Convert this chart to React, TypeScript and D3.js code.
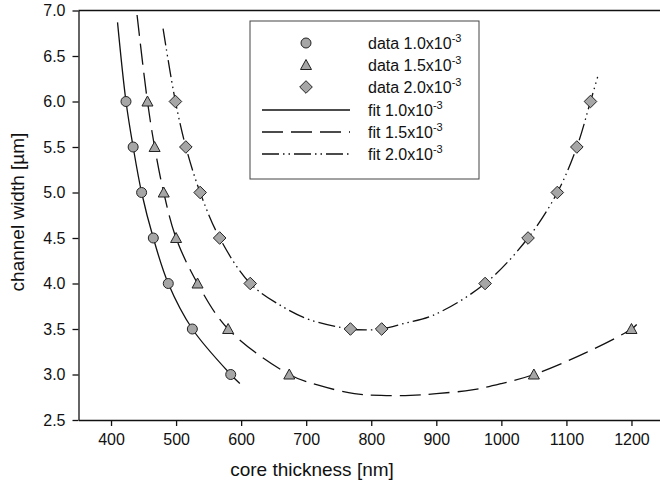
import React, { useRef, useEffect } from "react";
import * as d3 from "d3";

const width = 660;
const height = 488;
const margin = { left: 78.5, right: -4, top: 10.5, bottom: 68 }; // right side is cut off in the original
const font = "'Liberation Sans', Arial, sans-serif";
const markerFill = "#a6a6a6";

const xTicks = [400, 500, 600, 700, 800, 900, 1000, 1100, 1200];
const yTicks = [2.5, 3.0, 3.5, 4.0, 4.5, 5.0, 5.5, 6.0, 6.5, 7.0];

// measured points (core thickness nm, channel width um)
const data10X = [423, 434, 447, 465, 488, 525, 584];
const data10Y = [6.0, 5.5, 5.0, 4.5, 4.0, 3.5, 3.0];
const data15X = [456, 467, 481, 500, 533, 580, 674, 1050, 1200];
const data15Y = [6.0, 5.5, 5.0, 4.5, 4.0, 3.5, 3.0, 3.0, 3.5];
const data20X = [499, 515, 537, 567, 614, 768, 816, 975, 1041, 1086, 1116, 1137];
const data20Y = [6.0, 5.5, 5.0, 4.5, 4.0, 3.5, 3.5, 4.0, 4.5, 5.0, 5.5, 6.0];

// fit curves
const fit10X = [410, 423, 434, 447, 465, 488, 525, 584, 598];
const fit10Y = [6.87, 6.0, 5.5, 5.0, 4.5, 4.0, 3.5, 3.0, 2.9];
const fit15X = [440, 456, 467, 481, 500, 533, 580, 674, 720, 774, 815, 860, 900, 955, 1000, 1050, 1130, 1200, 1208];
const fit15Y = [6.95, 6.0, 5.5, 5.0, 4.5, 4.0, 3.5, 3.0, 2.88, 2.79, 2.77, 2.77, 2.79, 2.83, 2.9, 3.0, 3.24, 3.5, 3.55];
const fit20X = [480, 499, 515, 537, 567, 614, 665, 706, 767, 795, 816, 850, 895, 975, 1041, 1086, 1116, 1137, 1148];
const fit20Y = [6.8, 6.0, 5.5, 5.0, 4.5, 4.0, 3.74, 3.6, 3.5, 3.49, 3.5, 3.56, 3.65, 4.0, 4.5, 5.0, 5.5, 6.0, 6.27];

const legendLabels = ["data 1.0x10", "data 1.5x10", "data 2.0x10", "fit 1.0x10", "fit 1.5x10", "fit 2.0x10"];
const dashes = ["none", "21,8", "17,4,1.5,4,1.5,4"];

const x = d3.scaleLinear().domain([350, 1250]).range([margin.left, width - margin.right]);
const y = d3.scaleLinear().domain([2.5, 7.0]).range([height - margin.bottom, margin.top]);

const zip = (xs: number[], ys: number[]) => xs.map((v, i) => [v, ys[i]] as [number, number]);

const line = d3
  .line<[number, number]>()
  .x((d) => x(d[0]))
  .y((d) => y(d[1]))
  .curve(d3.curveCatmullRom.alpha(0.5));

const Marker = ({ kind, cx, cy }: { kind: number; cx: number; cy: number }) => {
  if (kind === 0) return <circle cx={cx} cy={cy} r={5} fill={markerFill} stroke="#222" strokeWidth={1} />;
  if (kind === 1)
    return (
      <path
        d={`M${cx},${cy - 5.5}L${cx + 5.5},${cy + 4.5}L${cx - 5.5},${cy + 4.5}Z`}
        fill={markerFill}
        stroke="#222"
        strokeWidth={1}
      />
    );
  return (
    <path
      d={`M${cx},${cy - 6.3}L${cx + 6.3},${cy}L${cx},${cy + 6.3}L${cx - 6.3},${cy}Z`}
      fill={markerFill}
      stroke="#222"
      strokeWidth={1}
    />
  );
};

const App = () => {
  const xAxisRef = useRef(null);
  const yAxisRef = useRef(null);

  useEffect(() => {
    const xAxis = d3
      .axisBottom(x)
      .tickValues(xTicks)
      .tickSize(6)
      .tickSizeOuter(0)
      .tickPadding(8)
      .tickFormat(d3.format("d"));
    const yAxis = d3
      .axisLeft(y)
      .tickValues(yTicks)
      .tickSize(6)
      .tickSizeOuter(0)
      .tickPadding(7)
      .tickFormat(d3.format(".1f"));
    for (const [ref, axis] of [
      [xAxisRef, xAxis],
      [yAxisRef, yAxis],
    ] as const) {
      const g = d3.select(ref.current);
      g.call(axis as never);
      g.selectAll("path,line").attr("stroke", "#111").attr("stroke-width", 1.3);
      g.selectAll("text").attr("font-size", 16).attr("font-family", font).attr("fill", "#111");
    }
  }, []);

  const fits = [zip(fit10X, fit10Y), zip(fit15X, fit15Y), zip(fit20X, fit20Y)];
  const data = [zip(data10X, data10Y), zip(data15X, data15Y), zip(data20X, data20Y)];
  const legendRows = [43, 65, 87, 110, 132, 154];

  return (
    <svg width={width} height={height} style={{ position: "absolute", left: 0, top: 0 }} fontFamily={font}>
      <rect width={width} height={height} fill="white" />
      <line x1={margin.left} x2={width} y1={margin.top} y2={margin.top} stroke="#111" strokeWidth={1.3} />
      <g ref={xAxisRef} transform={`translate(0, ${height - margin.bottom})`} />
      <g ref={yAxisRef} transform={`translate(${margin.left}, 0)`} />

      {fits.map((f, i) => (
        <path key={i} d={line(f) || ""} fill="none" stroke="#111" strokeWidth={1.3} strokeDasharray={dashes[i]} />
      ))}
      {data.map((s, i) =>
        s.map((d, j) => <Marker key={`${i}-${j}`} kind={i} cx={x(d[0])} cy={y(d[1])} />)
      )}

      <rect x={250} y={21} width={229} height={158} fill="white" stroke="#444" strokeWidth={1} />
      {legendLabels.map((label, i) => (
        <g key={label}>
          {i < 3 ? (
            <Marker kind={i} cx={306} cy={legendRows[i]} />
          ) : (
            <line
              x1={262}
              x2={350}
              y1={legendRows[i]}
              y2={legendRows[i]}
              stroke="#111"
              strokeWidth={1.3}
              strokeDasharray={dashes[i - 3]}
            />
          )}
          <text x={368} y={legendRows[i] + 6} fontSize={16} fill="#111">
            {label}
            <tspan fontSize={11} dy={-7}>
              -3
            </tspan>
          </text>
        </g>
      ))}

      <text x={312} y={476} textAnchor="middle" fontSize={19} fill="#111">
        core thickness [nm]
      </text>
      <text
        transform={`translate(24, 212) rotate(-90)`}
        textAnchor="middle"
        fontSize={19}
        fill="#111"
      >
        channel width [µm]
      </text>
    </svg>
  );
};

export default App;
